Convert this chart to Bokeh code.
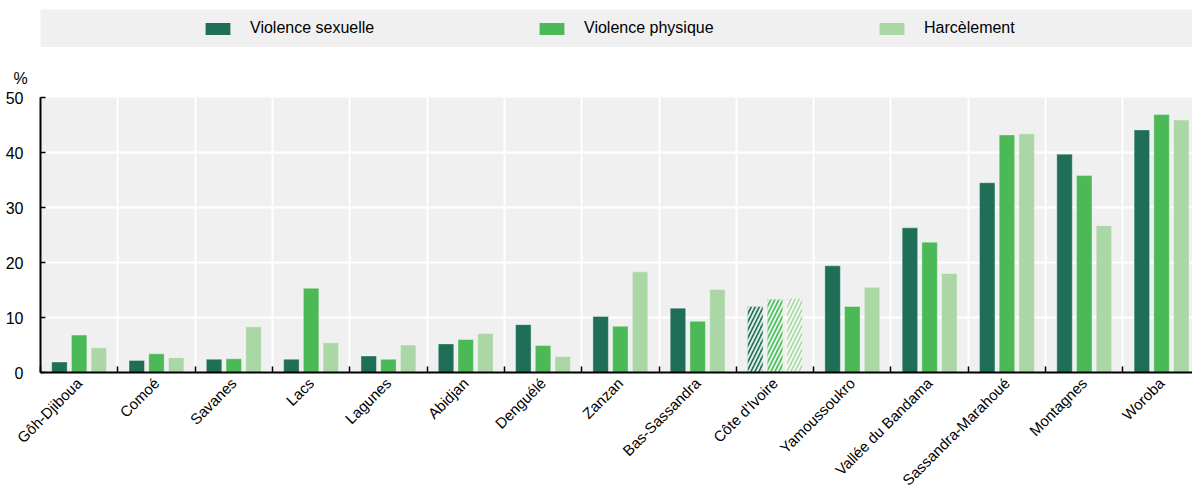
import math
from bokeh.plotting import figure
from bokeh.models import (ColumnDataSource, Range1d, FixedTicker, Legend, LegendItem, Title)
from bokeh.layouts import column
from bokeh.embed import file_html
from bokeh.resources import INLINE

# ---- data ----
regions = ["Gôh-Djiboua", "Comoé", "Savanes", "Lacs", "Lagunes", "Abidjan", "Denguélé",
           "Zanzan", "Bas-Sassandra", "Côte d'Ivoire", "Yamoussoukro", "Vallée du Bandama",
           "Sassandra-Marahoué", "Montagnes", "Woroba"]
violence_sexuelle = [1.9, 2.2, 2.4, 2.4, 3.0, 5.2, 8.7, 10.2, 11.7, 12.0, 19.4, 26.3, 34.5, 39.7, 44.1]
violence_physique = [6.8, 3.4, 2.5, 15.3, 2.4, 6.0, 4.9, 8.4, 9.3, 13.3, 12.0, 23.7, 43.2, 35.8, 46.9]
harcelement = [4.5, 2.7, 8.3, 5.4, 5.0, 7.1, 2.9, 18.3, 15.1, 13.5, 15.5, 18.0, 43.4, 26.7, 45.9]
series_names = ["Violence sexuelle", "Violence physique", "Harcèlement"]
highlight = "Côte d'Ivoire"
y_ticks = [0, 10, 20, 30, 40, 50]

# ---- style ----
colors = ["#1f6e58", "#4cb957", "#aad7a5"]
offsets = [-0.255, 0.0, 0.255]
BG = "#f0f0f0"
FONT = "Liberation Sans"

series_values = [violence_sexuelle, violence_physique, harcelement]
n = len(regions)
hatch = ["/" if r == highlight else " " for r in regions]

p = figure(width=1192, height=450, x_range=Range1d(-0.5, 14.4), y_range=Range1d(0, 50),
           output_backend="svg", toolbar_location=None,
           min_border_left=40, min_border_right=0, min_border_top=50, min_border_bottom=124,
           background_fill_color=BG, border_fill_color="white", outline_line_color=None)

for vals, col, off in zip(series_values, colors, offsets):
    src = ColumnDataSource(dict(x=[i + off for i in range(n)], top=vals, hatch=hatch))
    p.vbar(x="x", top="top", width=0.2, source=src, fill_color=col,
           line_color="white", line_alpha=0.35, line_width=1,
           hatch_pattern="hatch", hatch_color="white", hatch_weight=2,
           hatch_scale=8, hatch_alpha=0.85)

boundaries = [i - 0.5 for i in range(n + 1)]

# x axis
xa = p.xaxis[0]
xa.ticker = FixedTicker(ticks=list(range(n)), minor_ticks=boundaries)
xa.major_label_overrides = {i: r for i, r in enumerate(regions)}
xa.major_label_orientation = math.pi / 4
xa.major_tick_line_color = None
xa.minor_tick_in = 6
xa.minor_tick_out = 0
xa.minor_tick_line_color = "black"
xa.minor_tick_line_width = 1.5
xa.axis_line_color = "black"
xa.axis_line_width = 2
xa.major_label_text_font = FONT
xa.major_label_text_font_size = "15px"
xa.major_label_text_color = "black"
xa.major_label_standoff = 2

# y axis
ya = p.yaxis[0]
ya.ticker = FixedTicker(ticks=y_ticks)
ya.major_tick_in = 5
ya.major_tick_out = 0
ya.major_tick_line_color = "black"
ya.major_tick_line_width = 1.5
ya.minor_tick_line_color = None
ya.axis_line_color = "black"
ya.axis_line_width = 2
ya.major_label_text_font = FONT
ya.major_label_text_font_size = "16px"
ya.major_label_text_color = "black"
ya.major_label_standoff = 17

# grids
p.xgrid.ticker = FixedTicker(ticks=boundaries)
p.xgrid.grid_line_color = "white"
p.xgrid.grid_line_width = 2
p.ygrid.ticker = FixedTicker(ticks=y_ticks)
p.ygrid.grid_line_color = "white"
p.ygrid.grid_line_width = 2

p.add_layout(Title(text="%", align="left", offset=-27, text_font=FONT, text_font_size="16px",
                   text_font_style="normal", text_color="black", standoff=22), "above")

# ---- legend strip ----
s = figure(width=1192, height=47, x_range=Range1d(0, 1), y_range=Range1d(0, 1),
           output_backend="svg", toolbar_location=None, x_axis_type=None, y_axis_type=None,
           min_border_left=40, min_border_right=0, min_border_top=9, min_border_bottom=0,
           background_fill_color=BG, border_fill_color="white", outline_line_color=None)
s.grid.visible = False

legend_x = [162, 496, 836]
for name, col, lx in zip(series_names, colors, legend_x):
    # zero-height placeholder renderer: only used to give the legend its swatch
    r = s.vbar(x=[0.5], top=[0], bottom=[0], width=0.001, fill_color=col, line_color=None)
    leg = Legend(items=[LegendItem(label=name, renderers=[r])], location=(lx, 10),
                 orientation="horizontal", padding=0, margin=0, glyph_width=31, glyph_height=15,
                 label_standoff=17, label_height=15, label_text_font=FONT,
                 label_text_font_size="16px", label_text_color="black",
                 border_line_color=None, background_fill_alpha=0)
    s.add_layout(leg)

layout = column(s, p, spacing=0)
open("out.html", "w").write(file_html(layout, INLINE))
